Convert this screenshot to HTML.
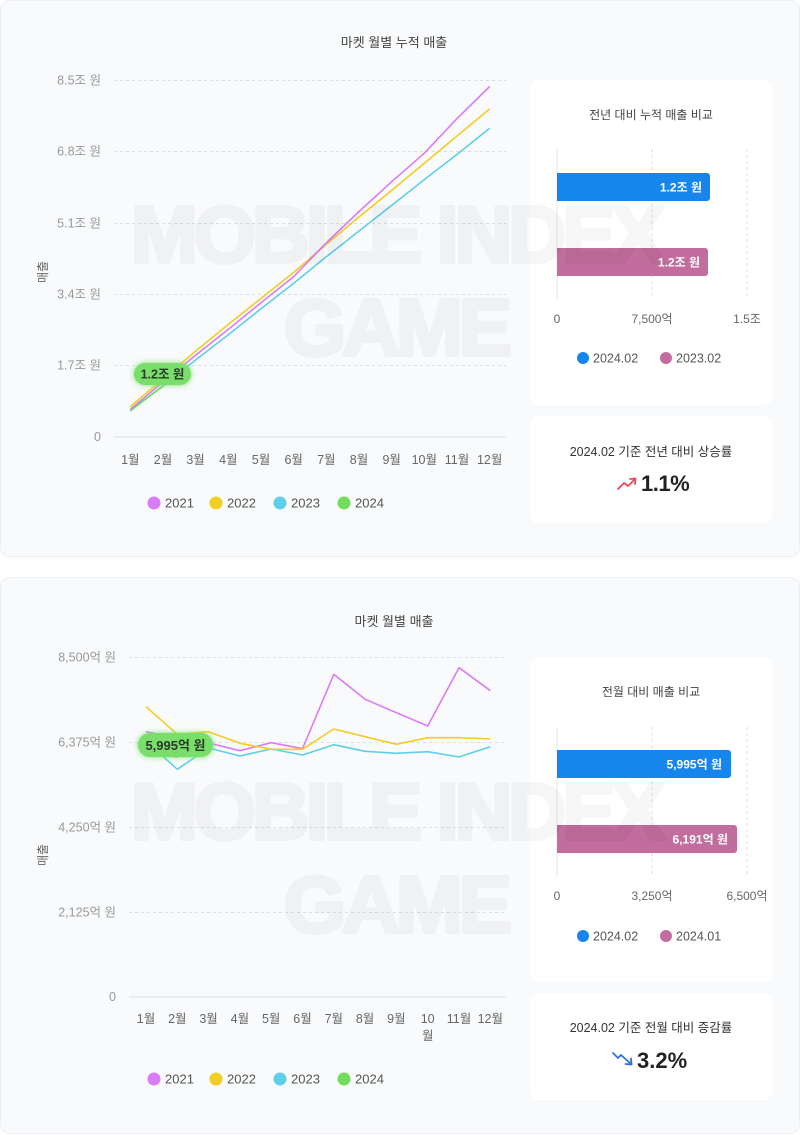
<!DOCTYPE html>
<html><head><meta charset="utf-8"><style>
html,body{margin:0;padding:0;background:#fff;}
svg{display:block;}
text{font-family:"Liberation Sans","Noto Sans CJK KR",sans-serif;}
</style></head><body>
<svg width="800" height="1135" viewBox="0 0 800 1135" xmlns="http://www.w3.org/2000/svg">
<defs>
<filter id="glow" x="-50%" y="-80%" width="200%" height="260%">
<feGaussianBlur in="SourceGraphic" stdDeviation="3" result="b"/>
<feMerge><feMergeNode in="b"/><feMergeNode in="SourceGraphic"/></feMerge>
</filter>
</defs>

<!-- Panel 1 -->
<rect x="0.5" y="0.5" width="799" height="556" rx="9" fill="#f9fafc" stroke="#eef0f3"/>
<text x="394" y="47" font-size="13" fill="#444" text-anchor="middle">마켓 월별 누적 매출</text>

<!-- grid chart 1 -->
<g stroke="#dcdde0" stroke-dasharray="3,3" stroke-width="1">
<line x1="114" y1="80.5" x2="506" y2="80.5"/>
<line x1="114" y1="151.5" x2="506" y2="151.5"/>
<line x1="114" y1="223.5" x2="506" y2="223.5"/>
<line x1="114" y1="294.5" x2="506" y2="294.5"/>
<line x1="114" y1="365.5" x2="506" y2="365.5"/>
</g>
<line x1="114" y1="437" x2="506" y2="437" stroke="#e6e7ea" stroke-width="1.5"/>
<g font-size="12.5" fill="#999" text-anchor="end">
<text x="101" y="84.5">8.5조 원</text>
<text x="101" y="155.5">6.8조 원</text>
<text x="101" y="227.5">5.1조 원</text>
<text x="101" y="298.5">3.4조 원</text>
<text x="101" y="369.5">1.7조 원</text>
<text x="101" y="441">0</text>
</g>
<text transform="translate(47,272) rotate(-90)" font-size="12" fill="#666" text-anchor="middle">매출</text>
<g font-size="12.5" fill="#666" text-anchor="middle">
<text x="130.3" y="464">1월</text><text x="163" y="464">2월</text><text x="195.6" y="464">3월</text>
<text x="228.3" y="464">4월</text><text x="261" y="464">5월</text><text x="293.7" y="464">6월</text>
<text x="326.3" y="464">7월</text><text x="359" y="464">8월</text><text x="391.7" y="464">9월</text>
<text x="424.3" y="464">10월</text><text x="457" y="464">11월</text><text x="489.7" y="464">12월</text>
</g>
<g fill="none" stroke-width="1.6" stroke-linejoin="round">
<polyline stroke="#f3cd22" points="130.3,406.5 163,379 195.6,351.1 228.3,324.4 261,298.4 293.7,272.4 326.3,244.3 359,217 391.7,190.4 424.3,163.2 457,136 489.7,108.9"/>
<polyline stroke="#5ecfe8" points="130.3,410.1 163,386.2 195.6,360 228.3,334.7 261,308.7 293.7,283.3 326.3,256.8 359,231 391.7,205.4 424.3,179.6 457,154.4 489.7,128.2"/>
<polyline stroke="#da7cf6" points="130.3,409.2 163,381.9 195.6,355.3 228.3,329.4 261,302.7 293.7,276.6 326.3,242.8 359,211.5 391.7,181.7 424.3,153.2 457,118.6 489.7,86.5"/>
<polyline stroke="#72dc5c" points="130.3,411 163,385.8"/>
</g>
<g filter="url(#glow)"><rect x="134" y="363" width="57" height="22" rx="11" fill="#7ade6a"/></g>
<text x="162.5" y="378.5" font-size="12.5" font-weight="bold" fill="#2b3a2b" text-anchor="middle">1.2조 원</text>
<g font-size="13" fill="#555">
<circle cx="154" cy="503" r="6.5" fill="#da7cf6"/><text x="165" y="507.5">2021</text>
<circle cx="216" cy="503" r="6.5" fill="#f3cd22"/><text x="227" y="507.5">2022</text>
<circle cx="280" cy="503" r="6.5" fill="#5ecfe8"/><text x="291" y="507.5">2023</text>
<circle cx="344" cy="503" r="6.5" fill="#72dc5c"/><text x="355" y="507.5">2024</text>
</g>

<!-- cards panel 1 -->
<rect x="530" y="80" width="242" height="325" rx="8" fill="#fff"/>
<text x="651" y="119" font-size="12" fill="#444" text-anchor="middle">전년 대비 누적 매출 비교</text>
<line x1="557" y1="149" x2="557" y2="299" stroke="#e6e7ea" stroke-width="1"/>
<line x1="652" y1="149" x2="652" y2="299" stroke="#dcdde0" stroke-dasharray="3,3"/>
<line x1="747" y1="149" x2="747" y2="299" stroke="#dcdde0" stroke-dasharray="3,3"/>
<path d="M557,173 H707 a3,3 0 0 1 3,3 V198 a3,3 0 0 1 -3,3 H557 Z" fill="#1685ec"/>
<path d="M557,248 H705 a3,3 0 0 1 3,3 V273 a3,3 0 0 1 -3,3 H557 Z" fill="#c16d9d"/>
<text x="702" y="191.5" font-size="12" font-weight="bold" fill="#fff" text-anchor="end">1.2조 원</text>
<text x="700" y="266.5" font-size="12" font-weight="bold" fill="#fff" text-anchor="end">1.2조 원</text>
<g font-size="12" fill="#666" text-anchor="middle">
<text x="557" y="323">0</text><text x="652" y="323">7,500억</text><text x="747" y="323">1.5조</text>
</g>
<g font-size="12.5" fill="#555">
<circle cx="583" cy="358" r="6" fill="#1685ec"/><text x="593" y="362.5">2024.02</text>
<circle cx="666" cy="358" r="6" fill="#c16d9d"/><text x="676" y="362.5">2023.02</text>
</g>
<rect x="530" y="416" width="242" height="107" rx="8" fill="#fff"/>
<text x="651" y="456" font-size="12.5" fill="#333" text-anchor="middle">2024.02 기준 전년 대비 상승률</text>
<g fill="none" stroke="#ea4a5e" stroke-width="1.8" stroke-linejoin="round" stroke-linecap="round">
<polyline points="618,489 624,483 628,486 635,479"/>
<polyline points="630,479 635.5,478.5 635,484"/>
</g>
<text x="641" y="491" font-size="22" font-weight="bold" fill="#222" letter-spacing="-0.5">1.1%</text>

<!-- Panel 2 -->
<rect x="0.5" y="577.5" width="799" height="556" rx="9" fill="#f9fafc" stroke="#eef0f3"/>
<text x="394" y="626" font-size="13" fill="#444" text-anchor="middle">마켓 월별 매출</text>
<g stroke="#dcdde0" stroke-dasharray="3,3" stroke-width="1">
<line x1="129" y1="657.5" x2="506" y2="657.5"/>
<line x1="129" y1="742.5" x2="506" y2="742.5"/>
<line x1="129" y1="827.5" x2="506" y2="827.5"/>
<line x1="129" y1="912.5" x2="506" y2="912.5"/>
</g>
<line x1="129" y1="997" x2="506" y2="997" stroke="#e6e7ea" stroke-width="1.5"/>
<g font-size="12.5" fill="#999" text-anchor="end">
<text x="116" y="661.5">8,500억 원</text>
<text x="116" y="746.5">6,375억 원</text>
<text x="116" y="831.5">4,250억 원</text>
<text x="116" y="916.5">2,125억 원</text>
<text x="116" y="1001">0</text>
</g>
<text transform="translate(47,855) rotate(-90)" font-size="12" fill="#666" text-anchor="middle">매출</text>
<g font-size="12.5" fill="#666" text-anchor="middle">
<text x="146" y="1023">1월</text><text x="177.3" y="1023">2월</text><text x="208.6" y="1023">3월</text>
<text x="239.9" y="1023">4월</text><text x="271.2" y="1023">5월</text><text x="302.5" y="1023">6월</text>
<text x="333.8" y="1023">7월</text><text x="365.1" y="1023">8월</text><text x="396.4" y="1023">9월</text>
<text x="427.7" y="1023">10</text><text x="427.7" y="1040">월</text>
<text x="459" y="1023">11월</text><text x="490.3" y="1023">12월</text>
</g>
<g fill="none" stroke-width="1.6" stroke-linejoin="round">
<polyline stroke="#5ecfe8" points="146,741 177.3,769.3 208.6,748 239.9,756 271.2,749 302.5,755 333.8,744.7 365.1,751.3 396.4,753.3 427.7,751.7 459,757 490.3,746.7"/>
<polyline stroke="#da7cf6" points="146,731.7 177.3,738 208.6,743 239.9,750.7 271.2,742.7 302.5,748.7 333.8,674.3 365.1,699.3 396.4,712.7 427.7,726 459,667.7 490.3,690.7"/>
<polyline stroke="#f3cd22" points="146,706.7 177.3,734.3 208.6,731.7 239.9,743.3 271.2,749.3 302.5,749.3 333.8,729 365.1,736.7 396.4,744.3 427.7,737.7 459,737.7 490.3,739"/>
<polyline stroke="#72dc5c" points="146,749.4 177.3,757.2"/>
</g>
<g filter="url(#glow)"><rect x="138" y="733" width="75" height="24" rx="12" fill="#7ade6a"/></g>
<text x="175.5" y="750" font-size="13" font-weight="bold" fill="#2b3a2b" text-anchor="middle">5,995억 원</text>
<g font-size="13" fill="#555">
<circle cx="154" cy="1079" r="6.5" fill="#da7cf6"/><text x="165" y="1083.5">2021</text>
<circle cx="216" cy="1079" r="6.5" fill="#f3cd22"/><text x="227" y="1083.5">2022</text>
<circle cx="280" cy="1079" r="6.5" fill="#5ecfe8"/><text x="291" y="1083.5">2023</text>
<circle cx="344" cy="1079" r="6.5" fill="#72dc5c"/><text x="355" y="1083.5">2024</text>
</g>

<!-- cards panel 2 -->
<rect x="530" y="657" width="242" height="325" rx="8" fill="#fff"/>
<text x="651" y="696" font-size="12" fill="#444" text-anchor="middle">전월 대비 매출 비교</text>
<line x1="557" y1="727" x2="557" y2="877" stroke="#e6e7ea" stroke-width="1"/>
<line x1="652" y1="727" x2="652" y2="877" stroke="#dcdde0" stroke-dasharray="3,3"/>
<line x1="747" y1="727" x2="747" y2="877" stroke="#dcdde0" stroke-dasharray="3,3"/>
<path d="M557,750 H728 a3,3 0 0 1 3,3 V775 a3,3 0 0 1 -3,3 H557 Z" fill="#1685ec"/>
<path d="M557,825 H734 a3,3 0 0 1 3,3 V850 a3,3 0 0 1 -3,3 H557 Z" fill="#c16d9d"/>
<text x="722" y="768.5" font-size="12" font-weight="bold" fill="#fff" text-anchor="end">5,995억 원</text>
<text x="728" y="843.5" font-size="12" font-weight="bold" fill="#fff" text-anchor="end">6,191억 원</text>
<g font-size="12" fill="#666" text-anchor="middle">
<text x="557" y="900">0</text><text x="652" y="900">3,250억</text><text x="747" y="900">6,500억</text>
</g>
<g font-size="12.5" fill="#555">
<circle cx="583" cy="936" r="6" fill="#1685ec"/><text x="593" y="940.5">2024.02</text>
<circle cx="666" cy="936" r="6" fill="#c16d9d"/><text x="676" y="940.5">2024.01</text>
</g>
<rect x="530" y="993" width="242" height="107" rx="8" fill="#fff"/>
<text x="651" y="1032" font-size="12.5" fill="#333" text-anchor="middle">2024.02 기준 전월 대비 증감률</text>
<g fill="none" stroke="#2f6fe6" stroke-width="1.8" stroke-linejoin="round" stroke-linecap="round">
<polyline points="613,1053 618,1058 621,1055 631,1064"/>
<polyline points="631,1058.5 631.5,1064.5 625.5,1064"/>
</g>
<text x="637" y="1068" font-size="22" font-weight="bold" fill="#222">3.2%</text>

<!-- watermarks -->
<g opacity="0.03">
<g font-size="80" font-weight="bold" fill="#000" stroke="#000" stroke-width="4" stroke-linejoin="round" text-anchor="middle" letter-spacing="-4">
<text x="396" y="262">MOBILE INDEX</text>
<text x="396" y="355">GAME</text>
<text x="396" y="839">MOBILE INDEX</text>
<text x="396" y="932">GAME</text>
</g>
</g>
</svg>
</body></html>
